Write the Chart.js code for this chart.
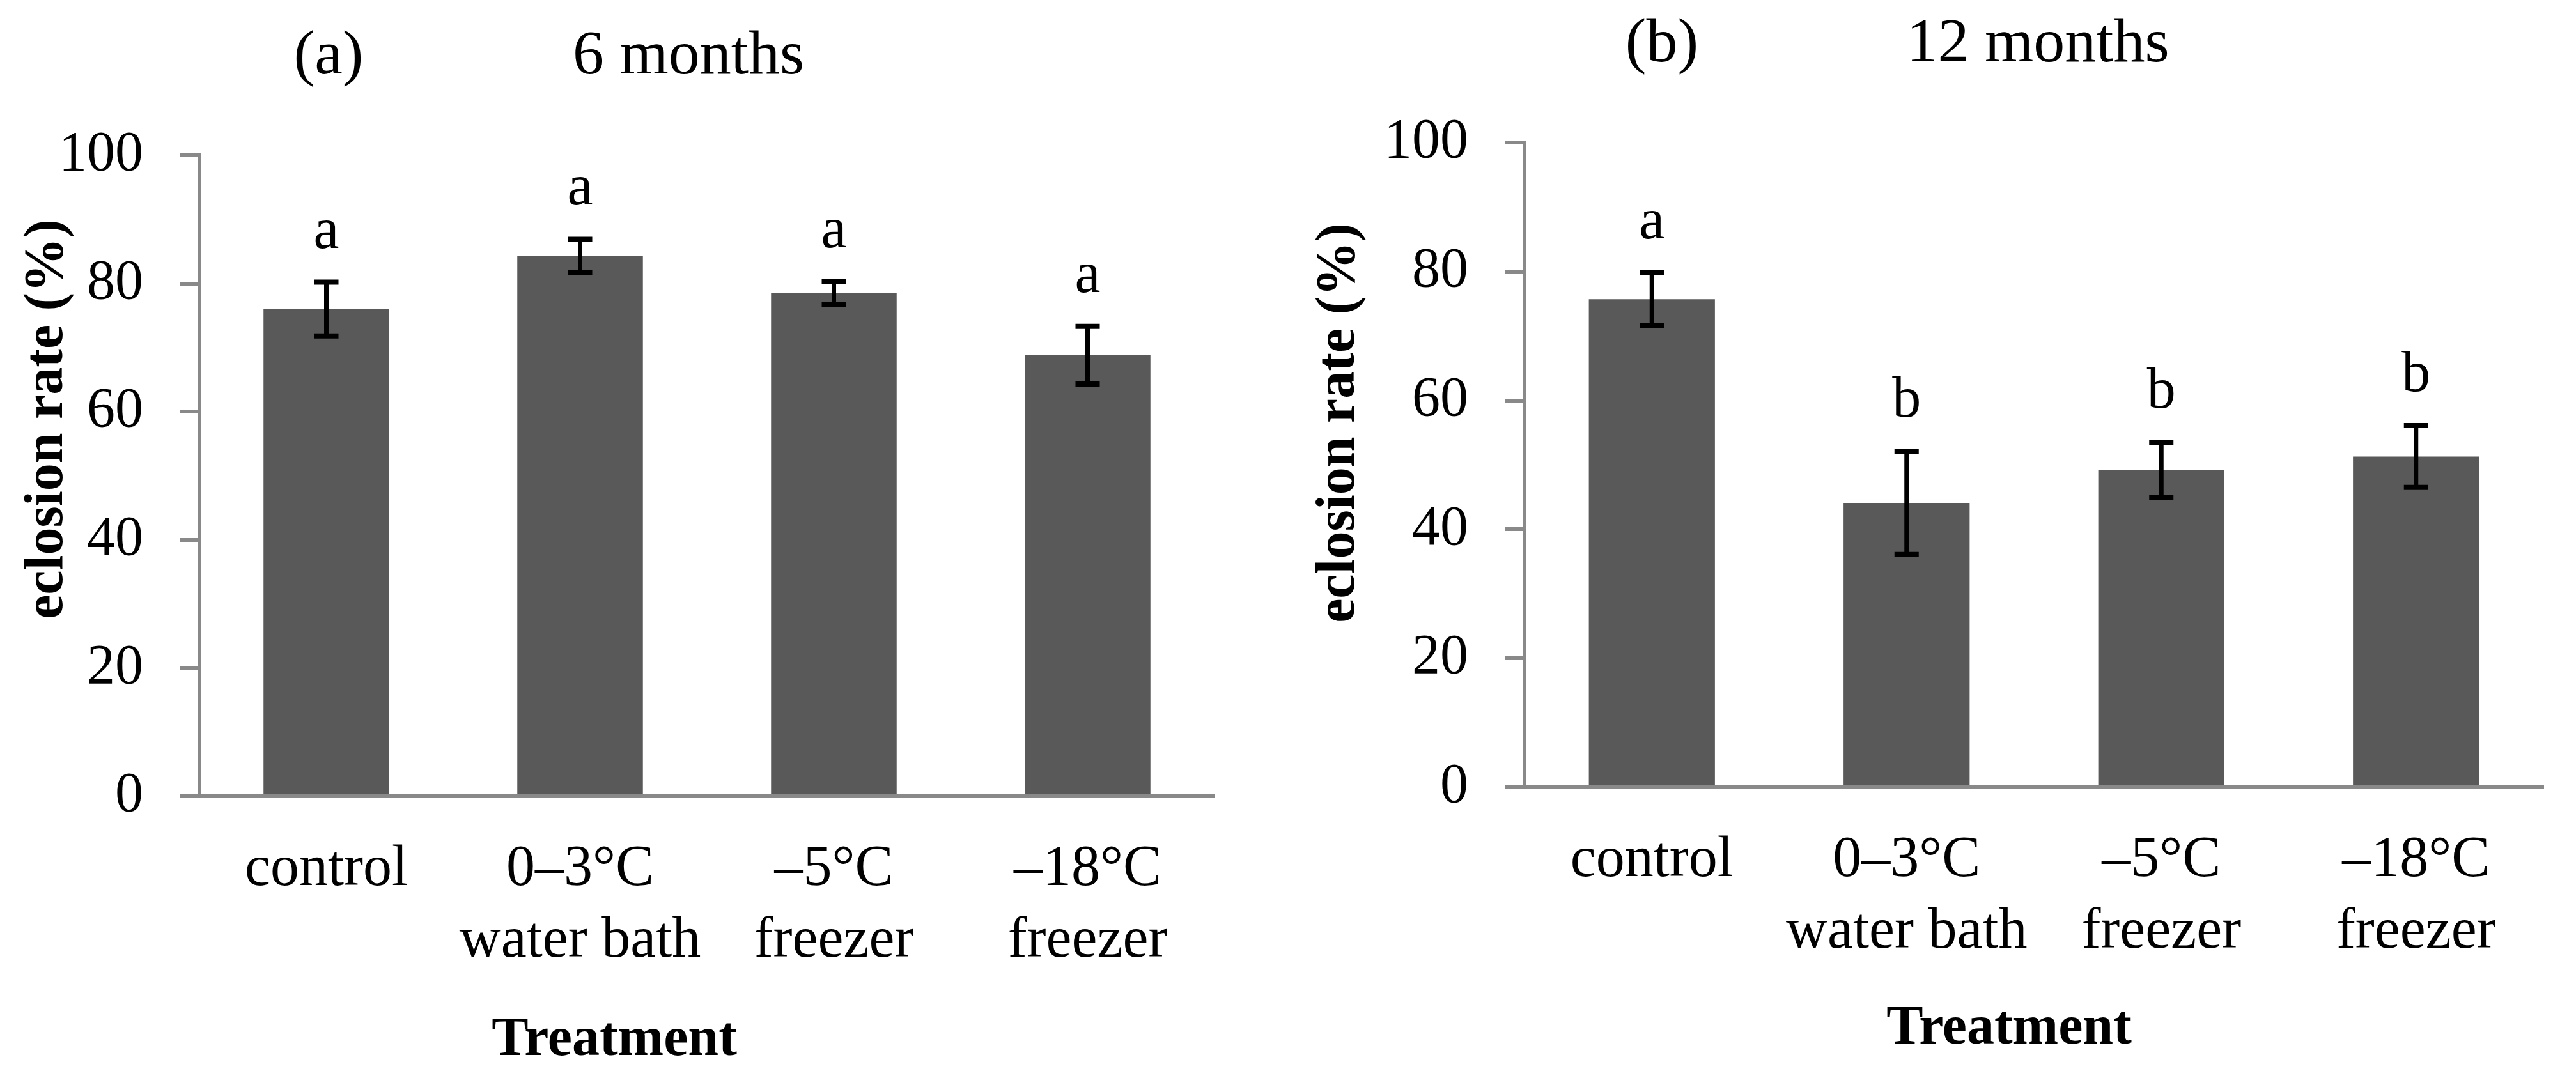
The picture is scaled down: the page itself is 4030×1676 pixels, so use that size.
<!DOCTYPE html>
<html>
<head>
<meta charset="utf-8">
<script src="https://cdn.jsdelivr.net/npm/chart.js@4.4.1/dist/chart.umd.min.js"></script>
<style>
  html, body { margin: 0; padding: 0; background: #fff; }
  #wrap { position: relative; width: 4030px; height: 1676px; }
  canvas { position: absolute; top: 0; }
</style>
</head>
<body>
<div id="wrap">
  <canvas id="chartA" width="2015" height="1676" style="left:0"></canvas>
  <canvas id="chartB" width="2015" height="1676" style="left:2015px"></canvas>
</div>
<script>
// Data
const treatments = [['control'], ['0–3°C', 'water bath'], ['–5°C', 'freezer'], ['–18°C', 'freezer']];
const yTicks = [0, 20, 40, 60, 80, 100];

const rate6 = [76.0, 84.3, 78.5, 68.8];
const err6 = [4.2, 2.6, 1.8, 4.5];
const letters6 = ['a', 'a', 'a', 'a'];

const rate12 = [75.7, 44.1, 49.2, 51.3];
const err12 = [4.1, 8.0, 4.3, 4.8];
const letters12 = ['a', 'b', 'b', 'b'];

const FONT = '"Liberation Serif", "Times New Roman", serif';
const AXIS_GREY = '#898989';
const BAR_GREY = '#595959';

// Error bars and significance letters, drawn from the y scale
const errorBarPlugin = {
  id: 'errorBars',
  afterDatasetsDraw(chart, args, opts) {
    const ctx = chart.ctx;
    const y = chart.scales.y;
    const meta = chart.getDatasetMeta(0);
    ctx.save();
    ctx.strokeStyle = '#000';
    ctx.fillStyle = '#000';
    meta.data.forEach((bar, i) => {
      const m = opts.means[i], e = opts.errors[i];
      const top = y.getPixelForValue(m + e);
      const bot = y.getPixelForValue(m - e);
      const cx = bar.x;
      ctx.lineWidth = 7;
      ctx.beginPath();
      ctx.moveTo(cx, top);
      ctx.lineTo(cx, bot);
      ctx.stroke();
      ctx.lineWidth = 8;
      ctx.beginPath();
      ctx.moveTo(cx - 19, top); ctx.lineTo(cx + 19, top);
      ctx.moveTo(cx - 19, bot); ctx.lineTo(cx + 19, bot);
      ctx.stroke();
      ctx.font = '90px ' + FONT;
      ctx.textAlign = 'center';
      ctx.textBaseline = 'alphabetic';
      ctx.fillText(opts.letters[i], cx, top - 54);
    });
    ctx.restore();
  }
};

// Free-standing texts: panel titles, axis titles
const textPlugin = {
  id: 'freeText',
  afterDraw(chart, args, opts) {
    const ctx = chart.ctx;
    ctx.save();
    ctx.fillStyle = '#000';
    ctx.textBaseline = 'alphabetic';
    ctx.textAlign = 'center';
    opts.items.forEach(t => {
      ctx.save();
      ctx.font = t.font;
      ctx.translate(t.x, t.y);
      if (t.rotate) ctx.rotate(t.rotate);
      ctx.fillText(t.text, 0, 0);
      ctx.restore();
    });
    ctx.restore();
  }
};

function createPanel(id, means, errors, letters, g, texts) {
  const H = 1676;
  return new Chart(document.getElementById(id), {
    type: 'bar',
    data: {
      labels: treatments,
      datasets: [{
        data: means,
        backgroundColor: BAR_GREY,
        borderWidth: 0,
        categoryPercentage: 1.0,
        barPercentage: 0.495
      }]
    },
    options: {
      responsive: false,
      animation: false,
      devicePixelRatio: 1,
      layout: { padding: { left: 0, top: g.top, right: g.right, bottom: 0 }, autoPadding: false },
      scales: {
        x: {
          grid: { display: false, drawTicks: false },
          border: { display: true, color: AXIS_GREY, width: 6 },
          ticks: {
            color: '#000',
            font: { family: FONT, size: 90, lineHeight: 1.24 },
            padding: 60,
            maxRotation: 0,
            autoSkip: false
          },
          afterFit(s) { s.height = H - g.bottom; }
        },
        y: {
          min: 0,
          max: 100,
          afterBuildTicks(s) { s.ticks = yTicks.map(v => ({ value: v })); },
          grid: { drawOnChartArea: false, drawTicks: true, tickLength: 30, color: AXIS_GREY, lineWidth: 6 },
          border: { display: true, color: AXIS_GREY, width: 6 },
          ticks: {
            color: '#000',
            font: { family: FONT, size: 88 },
            padding: 58
          },
          afterFit(s) { s.width = g.left; }
        }
      },
      plugins: {
        legend: { display: false },
        tooltip: { enabled: false },
        errorBars: { means: means, errors: errors, letters: letters },
        freeText: { items: texts }
      }
    },
    plugins: [errorBarPlugin, textPlugin]
  });
}

const titleFont = '98px ' + FONT;
const boldFont = 'bold 86px ' + FONT;

createPanel('chartA', rate6, err6, letters6,
  { left: 312, top: 243, right: 115, bottom: 1246 },
  [
    { text: '(a)', x: 514, y: 115, font: titleFont },
    { text: '6 months', x: 1077, y: 115, font: titleFont },
    { text: 'eclosion rate (%)', x: 97, y: 656, font: boldFont, rotate: -Math.PI / 2 },
    { text: 'Treatment', x: 961, y: 1651, font: boldFont }
  ]);

createPanel('chartB', rate12, err12, letters12,
  { left: 370, top: 223, right: 51, bottom: 1232 },
  [
    { text: '(b)', x: 585, y: 96, font: titleFont },
    { text: '12 months', x: 1173, y: 96, font: titleFont },
    { text: 'eclosion rate (%)', x: 103, y: 662, font: boldFont, rotate: -Math.PI / 2 },
    { text: 'Treatment', x: 1128, y: 1633, font: boldFont }
  ]);
</script>
</body>
</html>
